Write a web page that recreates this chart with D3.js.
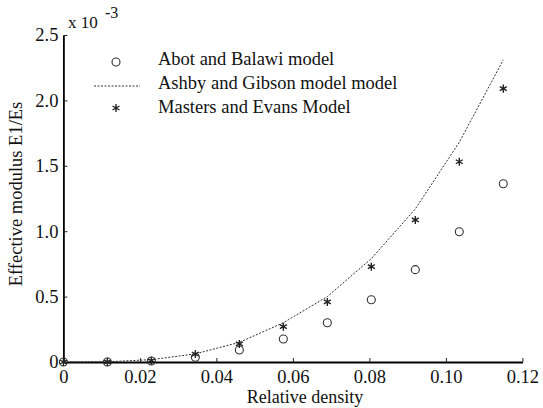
<!DOCTYPE html>
<html>
<head>
<meta charset="utf-8">
<script src="https://cdn.jsdelivr.net/npm/d3@7"></script>
<style>
  body { margin: 0; background: #fff; }
  text { font-family: "Liberation Serif", "Times New Roman", serif; fill: #111; }
</style>
</head>
<body>
<div id="box"></div>
<script>
// relative density (x) and the three model series (units of 1e-3)
var density = [0, 0.0115, 0.023, 0.0345, 0.046, 0.0575, 0.069, 0.0805, 0.092, 0.1035, 0.115];
var abot    = [0, 0.0, 0.008, 0.036, 0.092, 0.176, 0.30, 0.476, 0.706, 0.996, 1.363];
var ashby   = [0, 0.002, 0.018, 0.062, 0.15, 0.30, 0.50, 0.79, 1.17, 1.68, 2.31];
var masters = [0, 0.001, 0.01, 0.061, 0.138, 0.27, 0.459, 0.729, 1.086, 1.531, 2.09];
var xTicks = [0, 0.02, 0.04, 0.06, 0.08, 0.10, 0.12];
var yTicks = [0, 0.5, 1.0, 1.5, 2.0, 2.5];
var legendNames = ["Abot and Balawi model", "Ashby and Gibson model model", "Masters and Evans Model"];

var width = 543, height = 408;
var fs = 18.5;
var serif = "'Liberation Serif', 'Times New Roman', serif";

var svg = d3.select("#box").append("svg")
    .attr("width", width)
    .attr("height", height);

var x = d3.scaleLinear().domain([0, 0.12]).range([63.4, 522.4]);
var y = d3.scaleLinear().domain([0, 2.5]).range([362, 35]);

//Axes, ticks point inward
var xAxis = d3.axisBottom(x).tickValues(xTicks).tickSizeInner(-4).tickSizeOuter(0).tickPadding(7.5)
    .tickFormat(function(d){ return d === 0 ? "0" : d3.format(".2f")(d); });
var yAxis = d3.axisLeft(y).tickValues(yTicks).tickSizeInner(-4).tickSizeOuter(0).tickPadding(5)
    .tickFormat(function(d){ return d === 0 ? "0" : d3.format(".1f")(d); });

var gx = svg.append("g").attr("transform", "translate(0," + y(0) + ")").call(xAxis);
var gy = svg.append("g").attr("transform", "translate(" + x(0) + ",0)").call(yAxis);
[gx, gy].forEach(function(g){
    g.attr("font-family", serif).attr("font-size", fs);
    g.select(".domain").attr("stroke", "#000").attr("stroke-width", 1.8);
    g.selectAll(".tick line").attr("stroke", "#222");
    g.selectAll(".tick text").attr("fill", "#111");
});

//Axis titles
svg.append("text")
    .attr("x", 305).attr("y", 402.5)
    .attr("text-anchor", "middle")
    .style("font-size", "18px")
    .text("Relative density");

svg.append("text")
    .attr("transform", "translate(22,194) rotate(-90)")
    .attr("text-anchor", "middle")
    .style("font-size", fs + "px")
    .text("Effective modulus E1/Es");

var mult = svg.append("text").attr("x", 68).attr("y", 28).style("font-size", "17px");
mult.append("tspan").text("x 10");
mult.append("tspan").attr("x", 105).attr("y", 18).style("font-size", "16px").text("-3");

//Ashby and Gibson dashed line
var pts = density.map(function(d, i){ return [d, ashby[i]]; });
var line = d3.line().x(function(d){ return x(d[0]); }).y(function(d){ return y(d[1]); });
svg.append("path")
    .datum(pts)
    .attr("d", line)
    .attr("fill", "none")
    .attr("stroke", "#333")
    .attr("stroke-width", 1)
    .attr("stroke-dasharray", "2,1.5");

//Abot circles
svg.append("g").selectAll("circle")
    .data(density)
    .enter().append("circle")
    .attr("cx", function(d){ return x(d); })
    .attr("cy", function(d, i){ return y(abot[i]); })
    .attr("r", 4)
    .attr("fill", "none")
    .attr("stroke", "#333")
    .attr("stroke-width", 1.1);

//Masters stars
var star = d3.symbol().type(d3.symbolAsterisk).size(45);
svg.append("g").selectAll("path")
    .data(density)
    .enter().append("path")
    .attr("d", star)
    .attr("transform", function(d, i){ return "translate(" + x(d) + "," + y(masters[i]) + ")"; })
    .attr("fill", "none")
    .attr("stroke", "#222")
    .attr("stroke-width", 1.4);

//Legend
var lg = svg.append("g");
lg.append("circle").attr("cx", 116).attr("cy", 62).attr("r", 4)
    .attr("fill", "none").attr("stroke", "#333").attr("stroke-width", 1.1);
lg.append("line").attr("x1", 94).attr("x2", 140).attr("y1", 86).attr("y2", 86)
    .attr("stroke", "#333").attr("stroke-width", 1).attr("stroke-dasharray", "2,1.5");
lg.append("path").attr("d", star).attr("transform", "translate(116,108)")
    .attr("fill", "none").attr("stroke", "#222").attr("stroke-width", 1.4);
lg.selectAll("text.leg")
    .data(legendNames)
    .enter().append("text")
    .attr("class", "leg")
    .attr("x", 158)
    .attr("y", function(d, i){ return 65 + i * 24; })
    .style("font-size", fs + "px")
    .text(function(d){ return d; });
</script>
</body>
</html>
